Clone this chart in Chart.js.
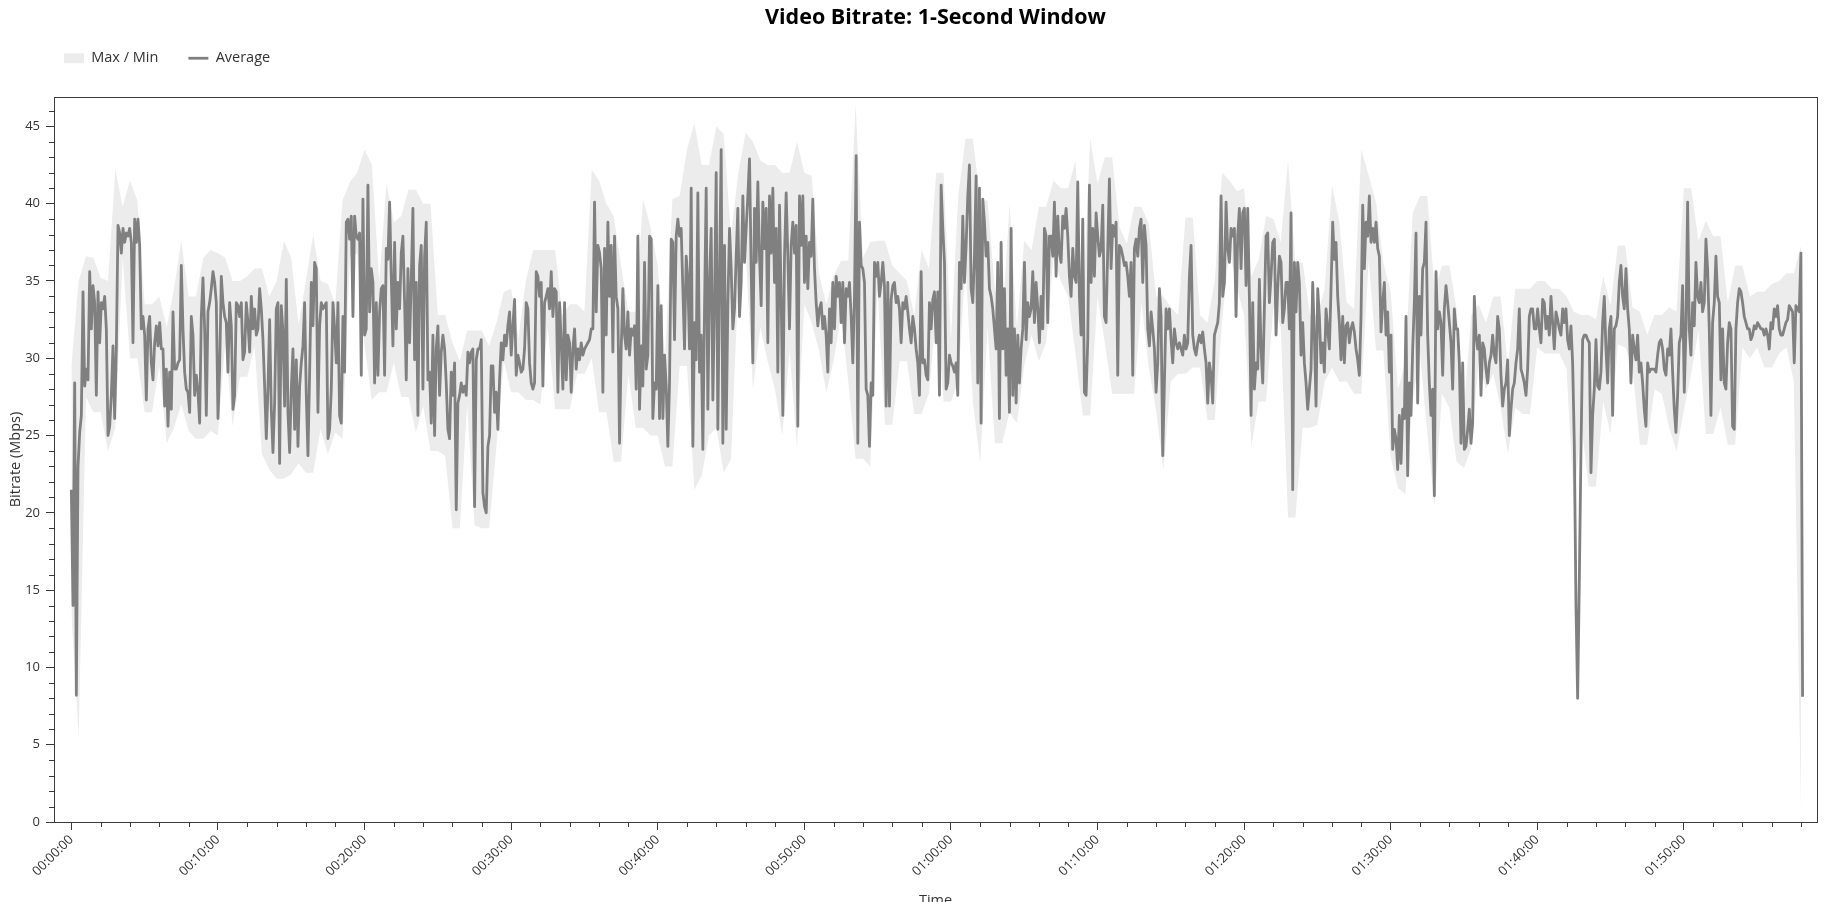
<!DOCTYPE html>
<html>
<head>
<meta charset="utf-8">
<title>Video Bitrate: 1-Second Window</title>
<script src="https://cdn.jsdelivr.net/npm/chart.js@4.4.1/dist/chart.umd.min.js"></script>
<style>
  html, body { margin: 0; padding: 0; background: #fff; overflow: hidden; }
  #wrap { position: relative; width: 1842px; height: 920px; }
</style>
</head>
<body>
<div id="wrap"><canvas id="bitrate-chart"></canvas></div>
<script>
const AVG_STEP_S = 6.82
const BAND_STEP_S = 30

const avgMbps = [
  21.5, 14.0, 28.4, 8.2, 23.0,
  // 00:00 - 00:19
  25.2, 26.3, 34.3, 28.2, 29.3, 28.6, 35.6, 31.9, 34.7, 33.6,
  27.6, 34.3, 31.0, 33.6, 33.2, 34.0, 31.9, 25.0, 25.6, 27.6,
  30.8, 26.1, 30.6, 38.6, 38.1, 36.8, 38.4, 37.5, 38.1, 37.9,
  38.4, 37.5, 31.0, 39.0, 37.5, 39.0, 37.3, 31.9, 32.7, 31.5,
  27.3, 31.9, 32.7, 29.7, 28.6, 31.0, 32.1, 30.8, 32.3, 30.6,
  30.6, 26.9, 29.3, 25.6, 29.1, 26.7, 33.0, 29.3, 29.3, 29.7,
  29.9, 36.0, 31.9, 29.1, 28.0, 27.8, 26.5, 32.7, 31.5, 27.6,
  28.9, 27.8, 25.8, 32.7, 35.2, 31.9, 26.3, 33.0, 33.6, 34.5,
  35.6, 34.9, 33.6, 26.1, 29.3, 35.3, 33.6, 32.7, 32.3, 29.1,
  33.6, 32.1, 26.7, 27.6, 33.6, 33.4, 32.7, 33.6, 29.9, 30.4,
  33.6, 32.3, 30.4, 34.0, 31.9, 33.2, 31.5, 31.9, 34.5, 33.2,
  31.2, 28.2, 24.8, 28.0, 32.5, 26.7, 23.9, 27.1, 33.2, 33.6,
  23.2, 33.4, 31.7, 26.9, 35.1, 26.5, 23.9, 28.0, 30.6, 25.4,
  29.9, 24.3, 28.2, 29.7, 30.8, 33.6, 27.6, 23.7, 29.1, 34.9,
  32.1, 36.2, 35.8, 26.5, 32.1, 33.6, 33.2, 33.4, 33.6, 24.8,
  25.4, 28.0, 33.6, 31.9, 29.7, 33.6, 26.3, 25.8, 32.7, 29.1,
  38.8, 39.0, 37.7, 39.2, 32.7, 39.2,
  // 00:19 - 00:39
  37.9, 37.7, 38.1, 28.9, 40.3, 31.5, 31.9, 41.2, 33.0, 35.8,
  34.9, 28.4, 33.6, 28.9, 33.0, 34.5, 34.7, 28.9, 37.1, 36.4,
  40.1, 35.3, 30.8, 37.5, 31.9, 34.9, 33.2, 36.8, 37.9, 33.6,
  28.6, 35.8, 31.0, 35.1, 39.7, 29.9, 34.9, 26.3, 36.0, 37.3,
  28.0, 36.6, 38.8, 28.6, 29.1, 25.8, 31.5, 25.0, 30.6, 32.1,
  27.6, 30.4, 31.5, 30.6, 28.4, 25.4, 24.8, 29.1, 27.6, 29.7,
  20.2, 27.1, 27.6, 28.4, 27.8, 28.2, 27.6, 30.4, 29.7, 30.4,
  30.6, 20.4, 29.9, 30.6, 30.6, 31.2, 21.3, 20.4, 20.0, 24.3,
  25.0, 29.5, 29.5, 26.5, 27.8, 25.4, 28.6, 31.0, 29.9, 31.5,
  30.8, 32.1, 33.0, 30.2, 32.1, 33.8, 28.9, 30.2, 29.7, 29.1,
  29.3, 30.6, 33.6, 33.2, 29.7, 28.4, 28.0, 28.4, 35.6, 35.3,
  34.0, 34.9, 28.2, 33.6, 34.0, 34.5, 33.2, 35.6, 32.7, 34.5,
  34.3, 27.8, 33.6, 31.0, 28.0, 33.6, 28.6, 31.5, 31.0, 27.8,
  30.6, 31.9, 29.3, 30.6, 29.9, 31.0, 30.2, 30.6, 30.8, 31.0,
  31.2, 31.9, 31.9, 40.1, 33.0, 37.3, 36.8, 35.8, 27.8, 37.1,
  31.5, 38.8, 34.0, 37.3, 30.4, 37.9, 34.0, 33.2, 24.5, 30.6,
  34.5, 31.5, 30.6, 33.0, 30.2, 31.9, 31.5, 32.1, 28.0, 37.9,
  26.7, 30.8, 28.2, 36.2, 29.3, 30.2, 37.9,
  // 00:39 - 00:59
  37.7, 26.1, 28.4, 28.0, 34.7, 26.1, 33.4, 26.1, 30.2, 28.2,
  24.3, 28.4, 37.7, 37.5, 31.2, 37.9, 39.0, 37.9, 38.4, 34.5,
  30.6, 36.6, 35.1, 30.6, 41.0, 24.3, 32.3, 29.9, 40.7, 29.1,
  31.5, 24.1, 33.2, 41.0, 26.7, 34.9, 38.4, 27.3, 33.6, 42.0,
  25.4, 35.3, 43.5, 24.5, 37.3, 25.4, 33.4, 38.4, 35.8, 31.9,
  33.2, 36.6, 39.7, 32.7, 34.9, 40.5, 36.2, 38.4, 40.5, 42.9,
  35.8, 29.7, 39.7, 36.2, 41.4, 36.6, 33.4, 40.1, 37.1, 39.7,
  31.0, 40.5, 36.8, 41.0, 34.9, 38.4, 29.1, 39.9, 34.0, 26.3,
  36.6, 40.7, 36.6, 31.9, 37.3, 38.8, 36.8, 38.6, 25.6, 40.5,
  37.3, 40.5, 34.9, 37.9, 34.5, 37.5, 36.6, 40.3, 35.8, 33.6,
  32.1, 33.2, 33.6, 31.9, 32.7, 31.5, 29.1, 33.2, 31.0, 34.9,
  31.9, 35.3, 34.0, 34.9, 32.3, 34.9, 31.0, 34.5, 34.0, 34.9,
  32.7, 29.7, 34.0, 43.1, 24.5, 38.8, 36.0, 35.8, 34.9, 28.0,
  27.6, 24.3, 28.4, 27.6, 36.2, 35.3, 36.2, 34.0, 34.9, 36.2,
  34.7, 26.9, 34.9, 26.9, 33.8, 34.7, 34.9, 33.6, 34.0, 33.2,
  31.0, 33.6, 33.2, 34.0, 33.0, 31.9, 31.0, 32.7, 31.9, 30.6,
  29.7, 27.6, 35.6, 29.7, 29.9, 28.9, 28.6, 33.6, 31.9, 33.8,
  34.3, 31.0, 34.3, 27.6, 41.2, 38.4, 36.2,
  // 00:59 - 01:19
  28.0, 28.4, 30.2, 29.7, 29.5, 29.1, 29.7, 27.6, 36.2, 34.5,
  39.2, 34.9, 37.3, 40.5, 42.5, 34.5, 33.6, 36.6, 41.8, 28.4,
  41.0, 25.8, 40.3, 38.8, 36.6, 37.5, 34.5, 34.0, 33.2, 31.9,
  30.6, 36.2, 26.1, 37.5, 30.6, 34.5, 28.9, 31.9, 26.5, 38.4,
  27.6, 31.9, 27.1, 31.5, 28.4, 30.6, 31.9, 36.2, 31.2, 33.6,
  32.7, 33.2, 35.6, 32.3, 34.9, 33.2, 31.0, 34.0, 31.9, 38.4,
  37.9, 32.3, 37.9, 37.9, 36.6, 40.1, 35.3, 39.2, 36.8, 36.2,
  39.2, 38.4, 39.7, 37.9, 35.3, 34.0, 37.1, 35.3, 34.9, 41.4,
  34.0, 31.5, 39.0, 27.8, 27.6, 31.2, 41.2, 34.9, 38.4, 35.3,
  39.4, 37.9, 36.6, 37.1, 39.9, 32.7, 32.3, 37.1, 41.6, 35.8,
  38.6, 37.9, 38.8, 28.9, 37.3, 37.1, 36.6, 36.0, 36.2, 35.3,
  34.0, 36.2, 28.9, 37.1, 37.7, 36.6, 38.4, 39.0, 34.9, 38.6,
  37.3, 31.9, 30.8, 33.0, 31.9, 30.6, 27.8, 29.7, 34.5, 32.7,
  23.7, 28.4, 33.2, 31.9, 33.2, 31.2, 29.7, 31.9, 31.0, 30.6,
  31.0, 30.6, 30.2, 31.5, 30.6, 31.0, 35.3, 37.3, 31.5, 30.6,
  30.2, 31.0, 31.5, 31.0, 31.7, 30.6, 29.7, 27.1, 29.7, 28.9,
  27.1, 31.5, 31.9, 32.3, 33.6, 40.5, 34.0, 34.9, 40.1, 37.1,
  36.2, 38.4, 37.9, 38.4, 32.7, 37.9, 39.7,
  // 01:19 - 01:39
  35.8, 39.4, 39.7, 34.7, 39.7, 34.0, 26.3, 33.6, 28.0, 29.7,
  29.3, 35.1, 30.6, 28.4, 33.2, 37.9, 38.1, 33.6, 35.3, 37.5,
  37.7, 31.5, 34.5, 36.6, 36.2, 32.3, 33.2, 34.9, 34.9, 31.9,
  39.4, 21.5, 36.2, 33.0, 36.2, 34.9, 30.2, 32.3, 29.7, 28.4,
  26.7, 28.0, 29.3, 34.9, 31.5, 26.9, 34.5, 32.7, 29.7, 31.0,
  29.1, 33.2, 31.9, 30.6, 34.5, 38.8, 36.4, 37.5, 34.0, 32.3,
  29.9, 32.7, 29.7, 32.1, 32.3, 31.0, 31.9, 32.3, 31.7, 30.6,
  29.9, 28.9, 32.7, 39.9, 35.8, 38.8, 37.9, 40.5, 37.5, 38.4,
  37.5, 38.8, 37.1, 36.6, 31.7, 33.6, 34.9, 31.5, 33.0, 29.1,
  31.5, 24.1, 25.4, 24.8, 22.8, 26.3, 23.2, 26.7, 26.1, 32.7,
  22.4, 28.4, 26.3, 30.6, 33.6, 38.1, 27.1, 34.0, 31.5, 35.8,
  36.2, 38.8, 31.5, 28.4, 26.3, 28.0, 21.1, 35.6, 31.9, 33.0,
  32.3, 28.9, 33.2, 34.7, 33.6, 32.3, 31.0, 28.0, 33.2, 31.9,
  31.9, 29.7, 24.5, 29.7, 24.1, 24.3, 25.4, 26.7, 24.5, 25.8,
  34.0, 31.5, 30.6, 31.5, 27.6, 31.0, 30.6, 29.3, 28.4, 29.7,
  30.2, 31.5, 30.2, 29.7, 32.7, 31.9, 28.9, 26.9, 28.0, 28.4,
  29.9, 25.0, 26.7, 28.0, 28.4, 29.7, 30.6, 33.2, 29.3, 28.9,
  28.4, 27.6, 29.3, 32.7, 33.2, 33.2, 31.9,
  // 01:39 - 01:58
  31.9, 33.2, 31.9, 31.0, 33.8, 33.6, 31.9, 32.7, 31.5, 34.0,
  32.3, 30.6, 33.0, 32.5, 31.9, 31.5, 33.2, 32.3, 33.2, 31.2,
  30.6, 32.1, 29.7, 24.5, 14.0, 8.0, 15.5, 24.0, 31.2, 31.5,
  31.5, 31.2, 31.0, 22.6, 26.3, 28.0, 31.2, 28.2, 28.0, 29.1,
  32.3, 34.0, 30.6, 28.4, 31.9, 32.7, 26.3, 31.9, 32.1, 32.7,
  34.9, 36.0, 34.0, 33.2, 35.8, 33.2, 31.9, 28.4, 31.5, 30.6,
  29.9, 31.5, 29.1, 29.7, 28.4, 26.7, 25.6, 29.7, 29.1, 29.3,
  29.3, 29.3, 29.1, 30.2, 31.0, 31.2, 30.6, 29.3, 28.9, 30.6,
  30.2, 31.9, 29.1, 26.7, 25.2, 27.6, 31.0, 31.5, 34.7, 27.8,
  31.9, 40.1, 31.9, 30.2, 33.6, 32.1, 36.2, 34.0, 33.6, 34.9,
  33.0, 33.6, 37.7, 35.8, 31.9, 26.3, 32.3, 33.6, 36.6, 34.0,
  33.6, 28.6, 31.9, 28.4, 28.0, 31.0, 32.3, 31.9, 25.6, 25.4,
  31.9, 33.6, 34.5, 34.3, 33.6, 32.7, 32.3, 31.9, 31.9, 31.2,
  31.5, 32.1, 31.9, 32.3, 32.1, 31.9, 31.9, 31.5, 31.9, 31.5,
  30.6, 32.3, 31.9, 33.2, 32.7, 33.4, 31.9, 31.5, 31.5, 31.9,
  32.3, 32.5, 33.4, 33.2, 33.0, 29.7, 33.4, 33.2, 33.0, 36.8,
  8.1
]

const maxMbps = [
  29.5, 35.0, 36.6, 36.5, 35.2, 35.0, 42.2, 39.8, 41.5, 40.2,
  33.5, 33.5, 34.0, 32.0, 34.5, 37.6, 34.0, 34.0, 36.5, 37.0,
  36.8, 36.5, 35.0, 35.0, 35.3, 35.8, 35.8, 34.0, 35.0, 37.6,
  36.5, 32.2, 35.0, 38.0, 35.0, 34.8, 33.5, 40.2, 41.4, 42.0,
  43.5, 42.5, 35.0, 41.3, 38.8, 39.2, 40.9, 40.9, 40.0, 40.0,
  32.8, 32.8, 31.0, 29.8, 31.8, 31.8, 31.8, 30.8, 32.3, 34.3,
  34.5, 31.3, 35.0, 37.0, 37.0, 37.0, 37.0, 32.8, 33.5, 33.5,
  33.0, 42.2, 41.5, 40.0, 39.2, 36.0, 33.0, 33.0, 40.3, 38.5,
  36.0, 30.0, 40.3, 40.5, 43.5, 45.2, 42.5, 42.5, 45.0, 44.5,
  38.0, 42.0, 44.6, 44.0, 42.8, 42.5, 42.5, 42.0, 42.0, 44.0,
  42.0, 41.8, 35.5, 33.5, 35.3, 36.3, 36.3, 46.4, 36.5, 37.5,
  37.6, 37.6, 36.0, 35.5, 35.0, 32.8, 37.0, 35.8, 42.0, 42.0,
  31.2, 40.5, 44.2, 44.2, 40.2, 40.2, 34.5, 32.0, 40.0, 32.0,
  37.6, 37.0, 39.8, 39.8, 41.5, 41.0, 41.0, 42.8, 33.0, 44.2,
  41.3, 43.0, 43.0, 38.5, 37.4, 39.8, 39.8, 38.7, 34.0, 34.0,
  33.3, 32.8, 39.1, 39.1, 32.8, 32.3, 35.0, 42.0, 41.5, 40.8,
  41.0, 35.3, 36.4, 39.2, 39.0, 37.5, 42.8, 36.2, 36.2, 32.8,
  32.8, 34.5, 41.2, 38.8, 33.6, 33.2, 43.5, 41.8, 40.1, 36.2,
  34.3, 28.0, 29.7, 39.4, 40.5, 40.5, 34.3, 36.0, 36.0, 33.2,
  26.7, 32.8, 33.5, 32.3, 34.0, 34.0, 29.5, 34.5, 34.5, 34.5,
  35.0, 35.0, 34.5, 34.5, 34.0, 33.0, 32.8, 32.8, 32.5, 35.3,
  33.4, 37.3, 37.3, 33.3, 33.0, 31.5, 32.8, 32.8, 33.3, 33.0,
  41.0, 41.0, 37.6, 38.9, 37.9, 37.9, 33.6, 36.0, 36.0, 34.0,
  34.3, 34.3, 34.8, 35.0, 35.5, 35.5, 37.3
]

const minMbps = [
  13.5, 5.5, 27.5, 26.5, 26.5, 24.0, 25.5, 36.5, 30.0, 30.0,
  26.5, 26.5, 29.5, 24.5, 25.5, 27.0, 25.3, 24.8, 24.8, 25.3,
  25.0, 31.0, 25.6, 28.8, 28.8, 30.8, 23.8, 22.8, 22.2, 22.2,
  22.5, 23.2, 22.6, 22.6, 25.4, 23.8, 25.2, 24.8, 36.5, 36.8,
  30.8, 27.3, 27.8, 27.8, 29.7, 27.5, 27.5, 25.2, 26.9, 24.0,
  24.0, 23.7, 19.0, 19.0, 27.0, 19.2, 19.0, 19.0, 24.3, 29.8,
  27.8, 27.8, 27.3, 27.3, 27.0, 32.0, 26.7, 26.7, 26.7, 29.0,
  29.0, 30.0, 26.5, 26.5, 23.3, 23.3, 29.0, 25.5, 25.5, 25.0,
  25.0, 23.0, 23.0, 29.5, 29.5, 21.5, 22.4, 25.0, 25.5, 22.6,
  23.5, 35.0, 37.0, 28.0, 32.0, 29.8, 28.0, 25.0, 30.5, 24.2,
  33.5, 32.3, 30.5, 27.8, 29.8, 32.8, 28.5, 23.5, 23.5, 23.0,
  34.5, 25.7, 25.7, 29.8, 29.8, 26.4, 26.4, 27.7, 33.0, 27.2,
  27.2, 28.5, 36.0, 27.2, 23.2, 32.0, 24.5, 24.5, 26.5, 25.8,
  29.5, 31.5, 29.8, 31.0, 36.5, 35.0, 34.0, 30.3, 26.3, 26.3,
  34.0, 31.0, 27.7, 27.7, 27.7, 27.7, 33.6, 29.4, 26.6, 22.8,
  28.5, 29.0, 29.0, 29.4, 29.4, 26.0, 26.0, 32.4, 37.0, 34.6,
  32.8, 24.3, 27.2, 27.2, 33.3, 32.0, 19.7, 19.7, 25.5, 25.5,
  25.7, 28.5, 29.4, 28.5, 28.5, 27.7, 27.7, 36.3, 30.5, 30.5,
  23.6, 21.6, 21.2, 27.2, 30.3, 25.1, 20.4, 27.7, 26.8, 23.3,
  22.9, 24.2, 29.8, 28.0, 29.0, 26.8, 23.8, 26.8, 26.4, 26.4,
  30.7, 30.3, 30.3, 30.3, 29.3, 20.5, 25.8, 21.7, 21.7, 27.2,
  25.1, 30.9, 30.7, 29.4, 24.4, 24.4, 28.0, 27.7, 25.5, 24.0,
  26.6, 29.0, 31.8, 25.1, 25.1, 26.8, 24.4, 24.4, 30.7, 30.0,
  30.7, 29.4, 29.4, 30.3, 30.7, 28.5, 0.3
]

const TITLE = 'Video Bitrate: 1-Second Window'
const X_LABEL_EVERY_S = 600 // labelled tick every 10 minutes
const X_TICK_STEP_S = 120 // small tick every 2 minutes
const Y_LABEL_EVERY = 5

const AXIS_COLOR = '#3a3a3a'
const TEXT_COLOR = '#333'
const LINE_COLOR = '#808080'
const BAND_COLOR = '#ececec'
const LEGEND_PAD = 30

Chart.defaults.font.family = "'Open Sans', 'Noto Sans', sans-serif"
Chart.defaults.font.size = 13
Chart.defaults.color = TEXT_COLOR

function hms(sec) {
  const h = Math.floor(sec / 3600)
  const m = Math.floor((sec % 3600) / 60)
  const s = sec % 60
  return [h, m, s].map(v => String(v).padStart(2, '0')).join(':')
}

const toPoints = (values, step) => values.map((v, i) => ({ x: i * step, y: v }))

// frame round the plot, short minor ticks, and legend placement
const framePlugin = {
  id: 'framePlugin',
  beforeLayout(chart) {
    const legend = chart.legend
    if (legend && !legend._fixedFit) {
      const fit = legend.fit
      legend.fit = function () {
        fit.call(this)
        this.height = 59
      }
      legend._fixedFit = true
    }
  },
  afterLayout(chart) {
    chart.legend.left += 64 - LEGEND_PAD
    chart.legend.right += 64 - LEGEND_PAD
    chart.legend.top -= 17
  },
  afterDraw(chart) {
    const { ctx, chartArea: a, scales } = chart
    ctx.save()
    ctx.strokeStyle = AXIS_COLOR
    ctx.lineWidth = 1
    ctx.strokeRect(Math.round(a.left) + 0.5, Math.round(a.top) + 0.5,
      Math.round(a.right - a.left), Math.round(a.bottom - a.top))
    ctx.beginPath()
    scales.x.ticks.forEach(t => {
      if (t.value % X_LABEL_EVERY_S !== 0) {
        const px = Math.round(scales.x.getPixelForValue(t.value)) + 0.5
        ctx.moveTo(px, a.bottom)
        ctx.lineTo(px, a.bottom + 5)
      }
    })
    scales.y.ticks.forEach(t => {
      if (t.value % Y_LABEL_EVERY !== 0) {
        const py = Math.round(scales.y.getPixelForValue(t.value)) + 0.5
        ctx.moveTo(a.left - 5, py)
        ctx.lineTo(a.left, py)
      }
    })
    ctx.stroke()
    ctx.restore()
  }
}

const ctx = document.getElementById('bitrate-chart')

new Chart(ctx, {
  type: 'line',
  data: {
    datasets: [
      {
        label: 'Average',
        data: toPoints(avgMbps, AVG_STEP_S),
        borderColor: LINE_COLOR,
        backgroundColor: LINE_COLOR,
        borderWidth: 2.8,
        borderJoinStyle: 'round',
        pointRadius: 0,
        pointHoverRadius: 0,
        pointStyle: 'line',
        tension: 0,
        fill: false,
        order: 0
      },
      {
        label: 'Max / Min',
        data: toPoints(maxMbps, BAND_STEP_S),
        borderColor: 'rgba(0,0,0,0)',
        backgroundColor: BAND_COLOR,
        borderWidth: 0,
        pointRadius: 0,
        pointHoverRadius: 0,
        pointStyle: 'rect',
        tension: 0,
        fill: '+1',
        order: 1
      },
      {
        label: 'Min',
        data: toPoints(minMbps, BAND_STEP_S),
        borderColor: 'rgba(0,0,0,0)',
        backgroundColor: BAND_COLOR,
        borderWidth: 0,
        pointRadius: 0,
        pointHoverRadius: 0,
        tension: 0,
        fill: false,
        order: 2
      }
    ]
  },
  options: {
    responsive: true,
    maintainAspectRatio: false,
    animation: false,
    events: [],
    parsing: false,
    layout: { padding: { left: 0, right: 25, top: 0, bottom: 0 } },
    plugins: {
      title: {
        display: true,
        fullSize: false,
        text: TITLE,
        color: '#000',
        font: { size: 21.5, weight: 'bold' },
        padding: { top: 5, bottom: 7.2 }
      },
      legend: {
        display: true,
        position: 'top',
        align: 'start',
        labels: {
          usePointStyle: true,
          pointStyleWidth: 20,
          boxHeight: 10,
          padding: LEGEND_PAD,
          color: TEXT_COLOR,
          font: { size: 14.5 },
          filter: item => item.datasetIndex !== 2,
          sort: (a, b) => b.datasetIndex - a.datasetIndex
        }
      },
      tooltip: { enabled: false }
    },
    scales: {
      x: {
        type: 'linear',
        min: -71,
        max: 7145,
        border: { display: false },
        grid: {
          drawOnChartArea: false,
          tickLength: 8,
          tickColor: c => (c.tick && c.tick.value % X_LABEL_EVERY_S === 0 ? AXIS_COLOR : 'rgba(0,0,0,0)')
        },
        ticks: {
          stepSize: X_TICK_STEP_S,
          includeBounds: false,
          autoSkip: false,
          maxRotation: 45,
          minRotation: 45,
          padding: 2,
          color: TEXT_COLOR,
          font: { size: 13 },
          callback: v => (v % X_LABEL_EVERY_S === 0 ? hms(v) : '')
        },
        title: {
          display: true,
          text: 'Time',
          color: TEXT_COLOR,
          font: { size: 14.5 },
          padding: { top: 0, bottom: 10 }
        },
        afterFit: scale => {
          scale.height = 98
        }
      },
      y: {
        min: 0,
        max: 46.9,
        border: { display: false },
        grid: {
          drawOnChartArea: false,
          tickLength: 8,
          tickColor: c => (c.tick && c.tick.value % Y_LABEL_EVERY === 0 ? AXIS_COLOR : 'rgba(0,0,0,0)')
        },
        ticks: {
          stepSize: 1,
          includeBounds: false,
          autoSkip: false,
          padding: 6,
          color: TEXT_COLOR,
          font: { size: 13 },
          callback: v => (v % Y_LABEL_EVERY === 0 ? v : '')
        },
        title: {
          display: true,
          text: 'Bitrate (Mbps)',
          color: TEXT_COLOR,
          font: { size: 14.5 },
          padding: { top: 7.5, bottom: 0 }
        },
        afterFit: scale => {
          scale.width = 54
        }
      }
    }
  },
  plugins: [framePlugin]
})
</script>
</body>
</html>
